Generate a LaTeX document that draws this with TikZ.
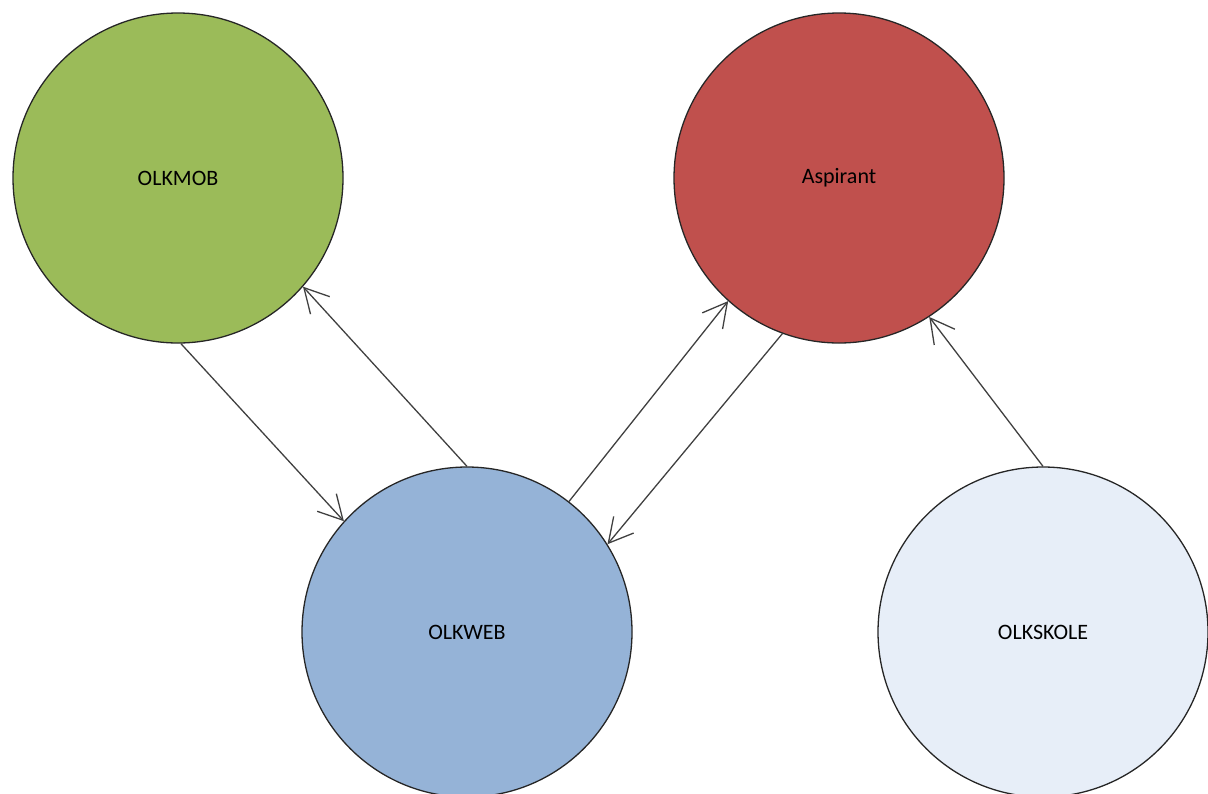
\documentclass[tikz,border=0pt]{standalone}
\usepackage{fontspec}
\setmainfont{Carlito}
\usetikzlibrary{arrows.meta}
\definecolor{mobgreen}{HTML}{9BBB59}
\definecolor{asred}{HTML}{C0504D}
\definecolor{webblue}{HTML}{95B3D7}
\definecolor{skolefill}{HTML}{E7EEF8}
\definecolor{linkgray}{HTML}{404040}
\begin{document}
\begin{tikzpicture}[x=0.5pt,y=-0.5pt,
  sysnode/.style={circle,draw=black!85,line width=0.65pt,minimum size=165pt,inner sep=0pt,
    font=\fontsize{11}{13}\selectfont},
  link/.style={draw=linkgray,line width=0.65pt,-{Straight Barb[length=12pt,width=13pt,line width=0.65pt]}}]
  \useasboundingbox (0,0) rectangle (1208,793);
  \node[sysnode,fill=mobgreen]  (mob)   at (178,178) {OLKMOB};
  \node[sysnode,fill=asred]     (asp)   at (839,178) {Aspirant};
  \node[sysnode,fill=webblue]   (web)   at (467,632) {OLKWEB};
  \node[sysnode,fill=skolefill] (skole) at (1043,632) {OLKSKOLE};
  \draw[link] (mob.-89)   -- (web.138.8);
  \draw[link] (web.90)    -- (mob.-41.3);
  \draw[link] (web.52.9)  -- (asp.228.7);
  \draw[link] (asp.250)   -- (web.32.9);
  \draw[link] (skole.90)  -- (asp.-57.4);
\end{tikzpicture}
\end{document}
